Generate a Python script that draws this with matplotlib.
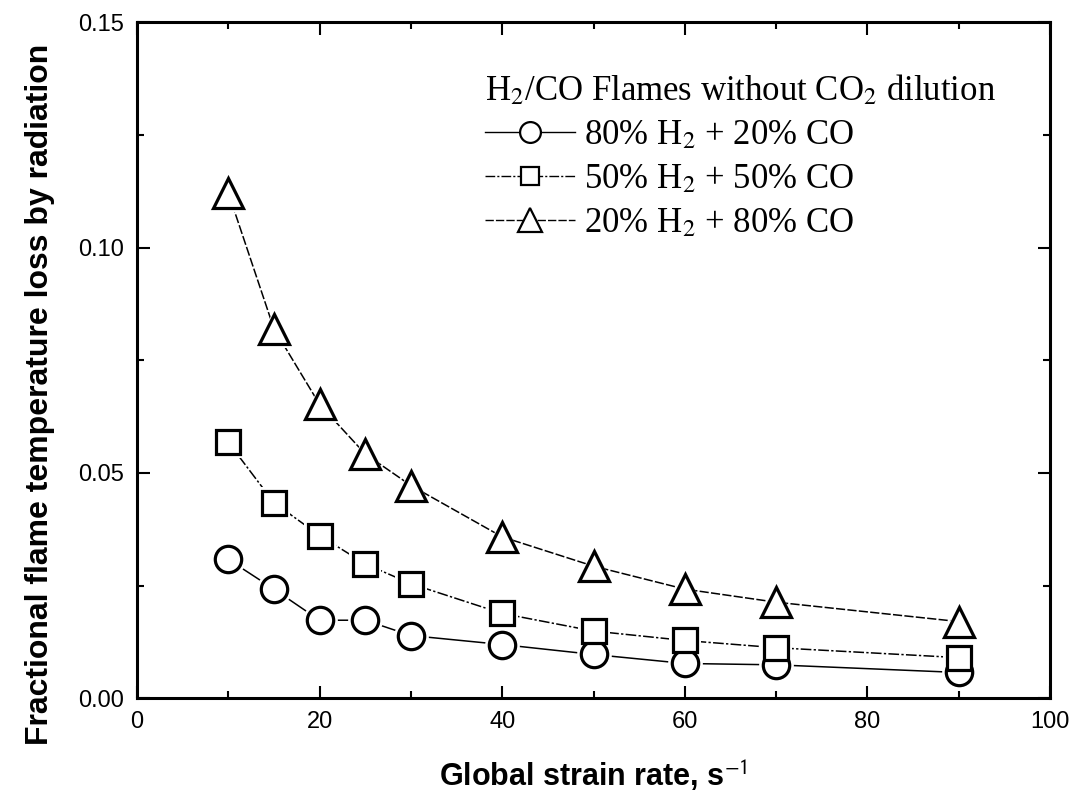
import matplotlib
matplotlib.use("Agg")
import matplotlib.pyplot as plt
from matplotlib.ticker import MultipleLocator, FormatStrFormatter

# strain rate (1/s)
strain = [10, 15, 20, 25, 30, 40, 50, 60, 70, 90]

# fractional flame temperature loss by radiation
h80_co20 = [0.0308, 0.0242, 0.0173, 0.0173, 0.0139, 0.0119, 0.0097, 0.0077, 0.0074, 0.0057]
h50_co50 = [0.0568, 0.0434, 0.0361, 0.0298, 0.0254, 0.0188, 0.0149, 0.0128, 0.0112, 0.0090]
h20_co80 = [0.1122, 0.0820, 0.0652, 0.0542, 0.0472, 0.0358, 0.0293, 0.0242, 0.0213, 0.0170]

labels = [r"80% H$_2$ + 20% CO", r"50% H$_2$ + 50% CO", r"20% H$_2$ + 80% CO"]
legend_title = r"H$_2$/CO Flames without CO$_2$ dilution"

plt.rcParams["mathtext.fontset"] = "stix"

fig = plt.figure(figsize=(10.87, 7.97), dpi=100)
ax = fig.add_axes([0.126, 0.124, 0.840, 0.848])

series = [
    (h80_co20, "o", "-", 19),
    (h50_co50, "s", (0, (7, 1.5, 1.5, 1.5)), 17),
    (h20_co80, "^", (0, (6, 1.5)), 21),
]

for vals, mk, ls, ms in series:
    ax.plot(strain, vals, color="black", lw=1.1, ls=ls, zorder=1)
    # white halo so the line stops short of the marker
    ax.plot(strain, vals, ls="none", marker=mk, ms=ms + 6, mfc="white",
            mec="white", mew=0, zorder=2)
    ax.plot(strain, vals, ls="none", marker=mk, ms=ms, mfc="white",
            mec="black", mew=2.3, zorder=3)

# legend proxies with line through marker
proxies = []
for vals, mk, ls, ms in series:
    p, = ax.plot([], [], color="black", lw=1.0, ls=ls, marker=mk,
                 ms=ms - 4, mfc="white", mec="black", mew=1.6)
    proxies.append(p)

leg = ax.legend(proxies, labels, title=legend_title, loc="upper left",
                bbox_to_anchor=(0.366, 0.945), frameon=False,
                prop={"family": "Liberation Serif", "size": 25},
                title_fontproperties={"family": "Liberation Serif", "size": 25},
                handlelength=2.6, handletextpad=0.25, labelspacing=0.32,
                borderaxespad=0)
leg._legend_box.align = "left"

ax.set_xlim(0, 100)
ax.set_ylim(0, 0.15)
ax.xaxis.set_major_locator(MultipleLocator(20))
ax.xaxis.set_minor_locator(MultipleLocator(10))
ax.yaxis.set_major_locator(MultipleLocator(0.05))
ax.yaxis.set_minor_locator(MultipleLocator(0.025))
ax.yaxis.set_major_formatter(FormatStrFormatter("%.2f"))

ax.tick_params(which="both", direction="in", top=True, right=True,
               width=1.5, labelsize=17)
ax.tick_params(which="major", length=9, pad=9)
ax.tick_params(which="minor", length=5)
for lab in ax.get_xticklabels() + ax.get_yticklabels():
    lab.set_family("Liberation Sans")

for sp in ax.spines.values():
    sp.set_linewidth(2.2)

ax.set_xlabel(r"Global strain rate, s$^{\mathsf{-1}}$", fontsize=22,
              family="Liberation Sans", fontweight="bold", labelpad=18)
ax.set_ylabel("Fractional flame temperature loss by radiation", fontsize=23,
              family="Liberation Sans", fontweight="bold")
ax.yaxis.set_label_coords(-0.09, 0.45)

fig.savefig("out.png", dpi=100)
